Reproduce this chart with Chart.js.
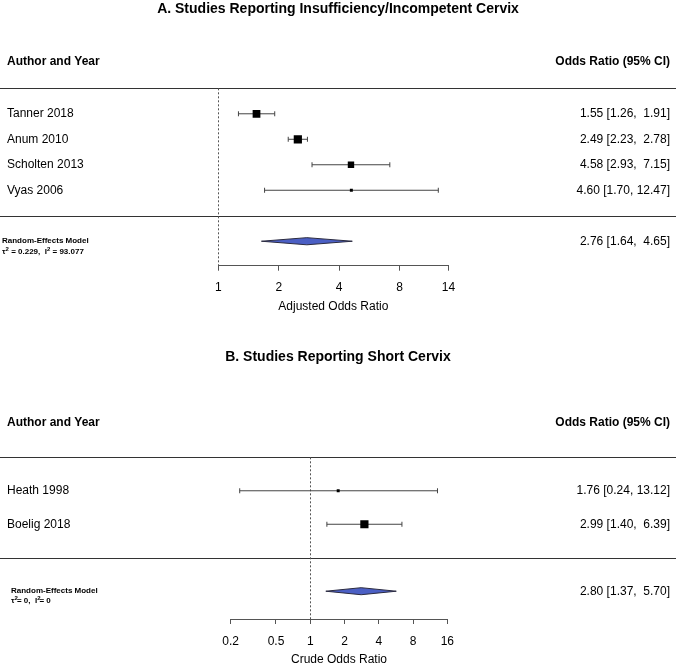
<!DOCTYPE html>
<html>
<head>
<meta charset="utf-8">
<script src="https://cdn.jsdelivr.net/npm/chart.js@4.4.1/dist/chart.umd.min.js"></script>
<style>
  html, body { margin: 0; padding: 0; background: #fff; }
  canvas { display: block; }
</style>
</head>
<body>
<canvas id="panelA" width="676" height="333"></canvas>
<canvas id="panelB" width="676" height="333"></canvas>
<script>
// Panel A: insufficiency / incompetent cervix (adjusted ORs)
const titleA = 'A. Studies Reporting Insufficiency/Incompetent Cervix';
const studiesA = ['Tanner 2018', 'Anum 2010', 'Scholten 2013', 'Vyas 2006'];
const orA = [1.55, 2.49, 4.58, 4.60];
const lowA = [1.26, 2.23, 2.93, 1.70];
const highA = [1.91, 2.78, 7.15, 12.47];
const weightA = [29.4, 30.8, 25.2, 14.6];   // % weight, judged from square sizes
const pooledA = [2.76, 1.64, 4.65];          // estimate, lower, upper
const hetA = ['0.229', '93.077'];            // tau^2, I^2
const ticksA = [1, 2, 4, 8, 14];
const xTitleA = 'Adjusted Odds Ratio';

// Panel B: short cervix (crude ORs)
const titleB = 'B. Studies Reporting Short Cervix';
const studiesB = ['Heath 1998', 'Boelig 2018'];
const orB = [1.76, 2.99];
const lowB = [0.24, 1.40];
const highB = [13.12, 6.39];
const weightB = [12.6, 87.4];
const pooledB = [2.80, 1.37, 5.70];
const hetB = ['0', '0'];
const ticksB = [0.2, 0.5, 1, 2, 4, 8, 16];
const xTitleB = 'Crude Odds Ratio';

const FONT = "'Liberation Sans', Arial, Helvetica, sans-serif";
Chart.defaults.font.family = FONT;

function ciText(est, lo, hi) {
  return `${est.toFixed(2)} [${lo.toFixed(2).padStart(4)}, ${hi.toFixed(2).padStart(5)}]`;
}

// square size follows the weight, smallest study gets the smallest box
function radii(w) {
  const lo = Math.min(...w), hi = Math.max(...w);
  return w.map(v => 2.1 + (hi === lo ? 1 : (v - lo) / (hi - lo)) * 3.7);
}

// tau^2 / I^2 line with small superscripts
function drawHet(ctx, x, y, tau, i2, tight) {
  const eq = tight ? '= ' : ' = ';
  const parts = [['\u03c4', 0], ['2', 1], [eq + tau + ',  ', 0], ['I', 0], ['2', 1], [eq + i2, 0]];
  let cx = x;
  parts.forEach(([t, sup]) => {
    ctx.font = sup ? `bold 6px ${FONT}` : `bold 8px ${FONT}`;
    ctx.fillText(t, cx, sup ? y - 3 : y);
    cx += ctx.measureText(t).width + (sup && tight ? -1 : 0);
  });
}

function forestPlugin(p, L) {
  const k = p.studies.length;
  return {
    id: 'forest',
    beforeDatasetsDraw(chart) {
      const {ctx, chartArea, scales: {x, y}} = chart;
      ctx.save();
      ctx.strokeStyle = '#333';
      ctx.lineWidth = 1;
      [k + 1, 0].forEach(r => {
        const py = Math.round(y.getPixelForValue(r)) + 0.5;
        ctx.beginPath();
        ctx.moveTo(0, py);
        ctx.lineTo(chart.width, py);
        ctx.stroke();
      });
      // reference line at OR = 1
      const px = Math.round(x.getPixelForValue(1)) + 0.5;
      ctx.strokeStyle = '#555';
      ctx.setLineDash([2, 2]);
      ctx.beginPath();
      ctx.moveTo(px, chartArea.top);
      ctx.lineTo(px, chartArea.bottom);
      ctx.stroke();
      ctx.restore();
    },
    afterDraw(chart) {
      const {ctx, scales: {y}} = chart;
      ctx.save();
      ctx.fillStyle = '#000';
      ctx.textBaseline = 'middle';
      ctx.font = `bold 14px ${FONT}`;
      ctx.textAlign = 'center';
      ctx.fillText(p.title, 338, L.titleY);
      ctx.font = `bold 12px ${FONT}`;
      ctx.textAlign = 'left';
      ctx.fillText('Author and Year', 7, L.headY);
      ctx.textAlign = 'right';
      ctx.fillText('Odds Ratio (95% CI)', 670, L.headY);
      ctx.font = `12px ${FONT}`;
      p.studies.forEach((s, i) => {
        const py = y.getPixelForValue(k - i);
        ctx.textAlign = 'left';
        ctx.fillText(s, 7, py);
        ctx.textAlign = 'right';
        ctx.fillText(ciText(p.or[i], p.low[i], p.high[i]), 670, py);
      });
      const py = y.getPixelForValue(-1);
      ctx.fillText(ciText(...p.pooled), 670, py);
      ctx.textAlign = 'left';
      ctx.font = `bold 8px ${FONT}`;
      ctx.fillText('Random-Effects Model', L.reX, py);
      drawHet(ctx, L.reX, py + L.hetDy, p.het[0], p.het[1], L.tight);
      ctx.restore();
    }
  };
}

function makeForest(id, p, L) {
  const k = p.studies.length;
  const datasets = [];
  p.studies.forEach((s, i) => {
    datasets.push({
      type: 'line',
      data: [{x: p.low[i], y: k - i}, {x: p.high[i], y: k - i}],
      borderColor: '#444', borderWidth: 1,
      pointStyle: 'line', rotation: 90, pointRadius: 2.5,
      pointBorderColor: '#444', pointBorderWidth: 1,
      order: 2
    });
  });
  datasets.push({
    type: 'scatter',
    data: p.or.map((v, i) => ({x: v, y: k - i})),
    pointStyle: 'rect',
    pointRadius: radii(p.weight),
    backgroundColor: '#000', borderColor: '#000', borderWidth: 0,
    order: 1
  });
  const [est, lo, hi] = p.pooled;
  const h = L.diamondH;
  datasets.push({
    type: 'line',
    data: [{x: lo, y: -1}, {x: est, y: -1 + h}, {x: hi, y: -1}, {x: est, y: -1 - h}, {x: lo, y: -1}],
    fill: 'shape',
    backgroundColor: '#4b5fc4', borderColor: '#2a2a40', borderWidth: 1,
    pointRadius: 0, tension: 0,
    order: 1
  });

  return new Chart(document.getElementById(id), {
    type: 'scatter',
    data: {datasets},
    options: {
      responsive: false,
      animation: false,
      devicePixelRatio: 1,
      events: [],
      layout: {padding: {top: L.padTop, left: L.padLeft, right: L.padRight, bottom: 0}},
      plugins: {legend: {display: false}, tooltip: {enabled: false}},
      scales: {
        x: {
          type: 'logarithmic',
          position: 'bottom',
          bounds: 'data',
          min: p.ticks[0],
          max: p.ticks[p.ticks.length - 1],
          afterBuildTicks: s => { s.ticks = p.ticks.map(v => ({value: v})); },
          afterFit: s => { s.height = 333 - L.axisY; },
          grid: {drawOnChartArea: false, drawTicks: true, tickLength: 5, color: '#555', lineWidth: 1},
          border: {display: true, color: '#555', width: 1},
          ticks: {autoSkip: false, maxRotation: 0, padding: 10, color: '#000', font: {size: 12},
                  callback: v => String(v)},
          title: {display: true, text: p.xTitle, color: '#000', font: {size: 12, lineHeight: 1},
                  padding: {top: 0, bottom: L.xTitlePad}}
        },
        y: {type: 'linear', display: false, min: L.yMin, max: k + 1}
      }
    },
    plugins: [forestPlugin(p, L)]
  });
}

makeForest('panelA',
  {title: titleA, studies: studiesA, or: orA, low: lowA, high: highA, weight: weightA,
   pooled: pooledA, het: hetA, ticks: ticksA, xTitle: xTitleA},
  {padTop: 88.3, padLeft: 218.3, padRight: 227.6, axisY: 265.7, yMin: -1.96,
   titleY: 9, headY: 61.7, reX: 2, hetDy: 11, tight: false, diamondH: 0.14, xTitlePad: 20});

makeForest('panelB',
  {title: titleB, studies: studiesB, or: orB, low: lowB, high: highB, weight: weightB,
   pooled: pooledB, het: hetB, ticks: ticksB, xTitle: xTitleB},
  {padTop: 124.3, padLeft: 230.7, padRight: 228.7, axisY: 286, yMin: -1.83,
   titleY: 24, headY: 89.7, reX: 11, hetDy: 10, tight: true, diamondH: 0.105, xTitlePad: 0});
</script>
</body>
</html>
